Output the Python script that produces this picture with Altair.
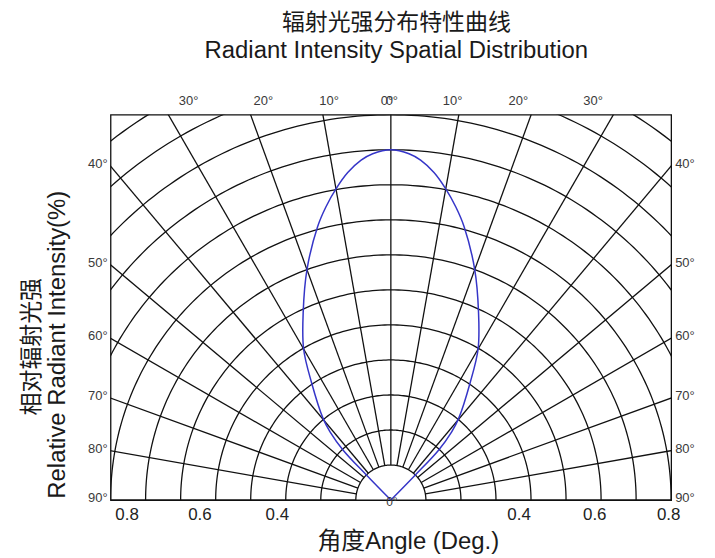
import altair as alt
import pandas as pd
import numpy as np

# ---------------- data ----------------
curve_angle = [-45, -44.3, -43.7, -41.7, -39.7, -34, -30, -25, -20, -15, -12.5, -10, -7.5, -5, -3, 0,
               3, 5, 7.5, 10, 12.5, 15, 20, 25, 30, 34, 39.7, 41.7, 43.7, 44.3, 45]
curve_intensity = [0.0, 0.10, 0.197, 0.261, 0.303, 0.405, 0.498, 0.592, 0.70, 0.808, 0.857, 0.902, 0.943,
                   0.974, 0.990, 1.0,
                   0.990, 0.974, 0.943, 0.902, 0.857, 0.808, 0.70, 0.592, 0.498, 0.405, 0.303, 0.261,
                   0.197, 0.10, 0.0]

grid_radii = [0.1, 0.2, 0.3, 0.4, 0.5, 0.6, 0.7, 0.8, 0.9, 1.0, 1.1, 1.2, 1.3]
grid_angles = [-90, -80, -70, -60, -50, -40, -30, -20, -10, 0, 10, 20, 30, 40, 50, 60, 70, 80, 90]

top_angles = [-30, -20, -10, 10, 20, 30]
top_texts = ["30°", "20°", "10°", "10°", "20°", "30°"]
side_angles = [40, 50, 60, 70, 80, 90]
side_texts = ["40°", "50°", "60°", "70°", "80°", "90°"]
bottom_texts = ["0.8", "0.6", "0.4", "0.4", "0.6", "0.8"]
bottom_pos = [-0.753, -0.545, -0.324, 0.366, 0.582, 0.793]

FONT = "Liberation Sans, Noto Sans CJK SC"
LABEL_COLOR = "#3a3a3a"
XS = alt.Scale(domain=[-0.8, 0.8], nice=False, zero=False)
YS = alt.Scale(domain=[0, 1.1], nice=False, zero=False)


def xy(chart):
    return chart.transform_calculate(
        px="datum.r * sin(datum.a * PI / 180)",
        py="datum.r * cos(datum.a * PI / 180)",
    )


def enc(chart, **kw):
    return chart.encode(
        x=alt.X("px:Q", scale=XS, axis=None),
        y=alt.Y("py:Q", scale=YS, axis=None),
        **kw,
    )


# grid arcs (geometry sampled along each circle)
arc_rows = []
for r in grid_radii:
    for a in np.arange(-90, 90.5, 1.0):
        arc_rows.append({"r": r, "a": float(a), "id": r})
arc_df = pd.DataFrame(arc_rows)

ray_rows = []
for a in grid_angles:
    ray_rows.append({"a": a, "r": 0.1, "k": 0})
    ray_rows.append({"a": a, "r": 1.6, "k": 1})
ray_df = pd.DataFrame(ray_rows)

curve_df = pd.DataFrame({"a": curve_angle, "r": curve_intensity,
                         "i": list(range(len(curve_angle)))})

arcs = enc(xy(alt.Chart(arc_df)).mark_line(clip=True, color="#111", strokeWidth=1.3),
           detail="id:N", order="a:Q")

rays = enc(xy(alt.Chart(ray_df)).mark_line(clip=True, color="#111", strokeWidth=1.3),
           detail="a:N", order="k:Q")

curve = enc(xy(alt.Chart(curve_df)).mark_line(color="#3535c8", strokeWidth=1.5,
                                              interpolate="catmull-rom"),
            order="i:Q")

top_df = pd.DataFrame({"a": top_angles, "t": top_texts})
top_labels = enc(alt.Chart(top_df).transform_calculate(
    px="tan(datum.a * PI / 180)", py="1.1"
).mark_text(font=FONT, fontSize=13, color=LABEL_COLOR, dy=-14, baseline="middle"), text="t:N")

zero_df = pd.DataFrame({"px": [0.0], "py": [1.1], "t": ["0°"]})
zero_l = enc(alt.Chart(zero_df).mark_text(font=FONT, fontSize=13, color=LABEL_COLOR, dy=-14,
                                          dx=-4, baseline="middle"), text="t:N")
zero_r = enc(alt.Chart(zero_df).mark_text(font=FONT, fontSize=13, color=LABEL_COLOR, dy=-14,
                                          dx=1, baseline="middle"), text="t:N")
zero_b_df = pd.DataFrame({"px": [0.0], "py": [0.0], "t": ["0°"]})
zero_b = enc(alt.Chart(zero_b_df).mark_text(font=FONT, fontSize=12, color=LABEL_COLOR, dy=2,
                                            dx=1, baseline="middle"), text="t:N")

side_df = pd.DataFrame({"a": side_angles, "t": side_texts})
side_r = enc(alt.Chart(side_df).transform_calculate(
    px="0.8", py="0.8 / tan(datum.a * PI / 180)"
).mark_text(font=FONT, fontSize=13, color=LABEL_COLOR, align="left", dx=4, dy=-2,
            baseline="middle"), text="t:N")
side_l = enc(alt.Chart(side_df).transform_calculate(
    px="-0.8", py="0.8 / tan(datum.a * PI / 180)"
).mark_text(font=FONT, fontSize=13, color=LABEL_COLOR, align="right", dx=-3, dy=-2,
            baseline="middle"), text="t:N")

bottom_df = pd.DataFrame({"px": bottom_pos, "py": [0.0] * 6, "t": bottom_texts})
bottom_labels = enc(alt.Chart(bottom_df).mark_text(font=FONT, fontSize=17, color="#222",
                                                   dy=15, baseline="middle"), text="t:N")

one = pd.DataFrame({"t": [""]})


def label(text, x, y, size, angle=0):
    return alt.Chart(one).mark_text(text=text, font=FONT, fontSize=size, color="#1a1a1a",
                                    angle=angle, baseline="middle", align="center").encode(
        x=alt.value(x), y=alt.value(y))


title1 = label("辐射光强分布特性曲线", 287, -92, 23)
title2 = label("Radiant Intensity Spatial Distribution", 287, -64, 24)
ytitle_cn = label("相对辐射光强", -79, 233, 23, 270)
ytitle_en = label("Relative   Radiant Intensity(%)", -53, 231, 24, 270)
xtitle = label("角度Angle (Deg.)", 299, 429, 24)

chart = alt.layer(
    arcs, rays, curve, top_labels, zero_l, zero_r, zero_b, side_l, side_r, bottom_labels,
    title1, title2, ytitle_cn, ytitle_en, xtitle,
).properties(
    width=563, height=387,
    autosize=alt.AutoSizeParams(type="none"),
    padding={"left": 103, "top": 106, "right": 36, "bottom": 55},
).configure_view(stroke="#111", strokeWidth=1.3)

chart.save("out.html", embed_options={"renderer": "svg", "actions": False})
